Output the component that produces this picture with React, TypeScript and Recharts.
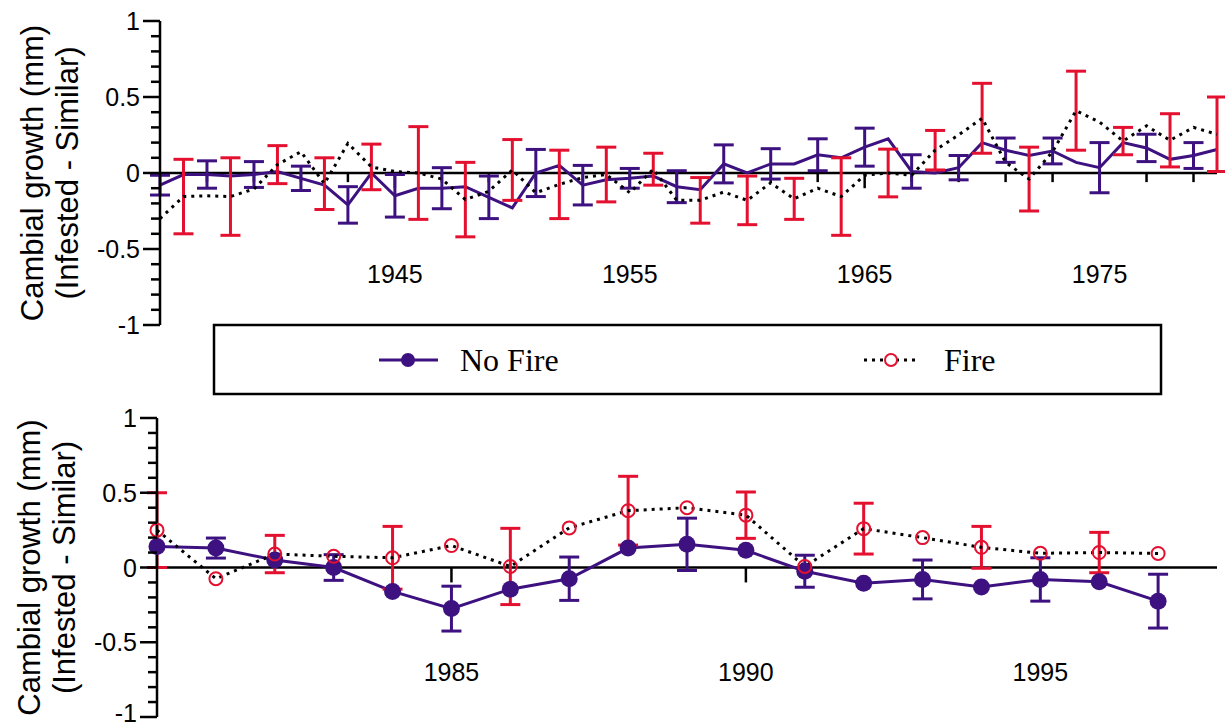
import React from 'react';
import { LineChart, Line, XAxis, YAxis, ErrorBar, ReferenceLine } from 'recharts';

const PURPLE = '#3d1280';
const RED = '#e3102f';
const SANS = '"Liberation Sans", Arial, sans-serif';
const SERIF = '"Liberation Serif", "Times New Roman", serif';

// ---------- Top panel (1935-1980) ----------
const topYears = [
  1935, 1936, 1937, 1938, 1939, 1940, 1941, 1942, 1943, 1944, 1945, 1946, 1947, 1948, 1949, 1950,
  1951, 1952, 1953, 1954, 1955, 1956, 1957, 1958, 1959, 1960, 1961, 1962, 1963, 1964, 1965, 1966,
  1967, 1968, 1969, 1970, 1971, 1972, 1973, 1974, 1975, 1976, 1977, 1978, 1979, 1980,
];
const topNoFire = [
  -0.08, -0.01, -0.01, -0.02, -0.01, 0.01, -0.035, -0.08, -0.21, 0.0, -0.15, -0.1, -0.1, -0.09, -0.16, -0.23,
  0.0, 0.05, -0.08, -0.045, -0.035, -0.02, -0.09, -0.11, 0.06, 0.0, 0.06, 0.06, 0.12, 0.1, 0.17, 0.225,
  0.01, 0.0, 0.035, 0.2, 0.15, 0.115, 0.145, 0.07, 0.035, 0.2, 0.165, 0.09, 0.115, 0.155,
];
const topNoFireErr = [
  0.065, null, 0.09, null, 0.085, null, 0.08, null, 0.12, null, 0.14, null, 0.135, null, 0.14, null,
  0.155, null, 0.13, null, 0.065, null, 0.105, null, 0.125, null, 0.1, null, 0.105, null, 0.125, null,
  0.11, null, 0.08, null, 0.08, null, 0.085, null, 0.165, null, 0.09, null, 0.085, null,
];
const topFire = [
  -0.3, -0.155, -0.15, -0.155, -0.105, 0.055, 0.14, -0.07, 0.195, 0.04, 0.01, 0.0, -0.04, -0.175, -0.12, 0.02,
  -0.13, -0.075, -0.03, -0.01, -0.13, 0.025, -0.18, -0.18, -0.125, -0.18, -0.065, -0.17, -0.1, -0.155, -0.015, 0.0,
  -0.015, 0.15, 0.25, 0.36, 0.07, -0.04, 0.14, 0.41, 0.335, 0.21, 0.31, 0.215, 0.3, 0.255,
];
const topFireErr = [
  null, 0.245, null, 0.255, null, 0.125, null, 0.17, null, 0.15, null, 0.305, null, 0.245, null, 0.2,
  null, 0.225, null, 0.18, null, 0.105, null, 0.15, null, 0.16, null, 0.135, null, 0.255, null, 0.157,
  null, 0.13, null, 0.23, null, 0.21, null, 0.26, null, 0.09, null, 0.175, null, 0.245,
];
const topXLabels = [1945, 1955, 1965, 1975];
const topMinorXTicks = [
  1937, 1939, 1941, 1943, 1947, 1949, 1951, 1953, 1957, 1959, 1961, 1963, 1967, 1969, 1971, 1973, 1977, 1979,
];

// ---------- Bottom panel (1980-1997) ----------
const bottomYears = [1980, 1981, 1982, 1983, 1984, 1985, 1986, 1987, 1988, 1989, 1990, 1991, 1992, 1993, 1994, 1995, 1996, 1997];
const bottomNoFire = [0.14, 0.13, 0.05, 0.0, -0.16, -0.275, -0.145, -0.075, 0.13, 0.155, 0.115, -0.025, -0.105, -0.08, -0.13, -0.08, -0.095, -0.225];
const bottomNoFireErr = [null, 0.067, null, 0.086, null, 0.15, null, 0.145, null, 0.175, null, 0.107, null, 0.13, null, 0.145, null, 0.18];
const bottomFire = [0.25, -0.075, 0.09, 0.075, 0.065, 0.147, 0.007, 0.265, 0.38, 0.4, 0.35, 0.007, 0.26, 0.2, 0.135, 0.095, 0.1, 0.094];
const bottomFireErr = [0.25, null, 0.125, null, 0.21, null, 0.255, null, 0.23, null, 0.155, null, 0.17, null, 0.14, null, 0.135, null];
const bottomXLabels = [1985, 1990, 1995];

// ---------- shared y ticks ----------
const yTicks = [-1, -0.9, -0.8, -0.7, -0.6, -0.5, -0.4, -0.3, -0.2, -0.1, 0, 0.1, 0.2, 0.3, 0.4, 0.5, 0.6, 0.7, 0.8, 0.9, 1];
const yLabelTicks = [-1, -0.5, 0, 0.5, 1];

const topData = topYears.map((year, i) => ({
  year,
  noFire: topNoFire[i],
  noFireErr: topNoFireErr[i],
  fire: topFire[i],
  fireErr: topFireErr[i],
}));
const bottomData = bottomYears.map((year, i) => ({
  year,
  noFire: bottomNoFire[i],
  noFireErr: bottomNoFireErr[i],
  fire: bottomFire[i],
  fireErr: bottomFireErr[i],
}));

// maxLabelY keeps the lowest label inside the picture
const makeYTick = (maxLabelY: number) => (props: any) => {
  const { x, y, payload } = props;
  const v = payload.value;
  const major = yLabelTicks.some((t) => Math.abs(t - v) < 1e-6);
  const ly = Math.min(y, maxLabelY);
  return (
    <g>
      <line x1={x - (major ? 17 : 9)} x2={x} y1={y} y2={y} stroke="#000" strokeWidth={2.5} />
      {major && (
        <text x={x - 20} y={ly} textAnchor="end" dominantBaseline="central" fontSize={25} fontFamily={SANS} fill="#000">
          {String(v)}
        </text>
      )}
    </g>
  );
};

const makeXTick = (offset: number) => (props: any) => {
  const { x, y, payload } = props;
  return (
    <text x={x} y={y - offset} textAnchor="middle" dominantBaseline="central" fontSize={25} fontFamily={SANS} fill="#000">
      {payload.value}
    </text>
  );
};

const renderTitle = (props: any) => {
  const vb = props.viewBox || { x: 0, y: 0, width: 0, height: 0 };
  const cy = vb.y + vb.height / 2;
  const x1 = vb.x + 22;
  const x2 = vb.x + 57;
  return (
    <g>
      <text x={x1} y={cy} transform={`rotate(-90, ${x1}, ${cy})`} textAnchor="middle" dominantBaseline="central" fontSize={31} fontFamily={SANS} fill="#000">
        Cambial growth (mm)
      </text>
      <text x={x2} y={cy} transform={`rotate(-90, ${x2}, ${cy})`} textAnchor="middle" dominantBaseline="central" fontSize={31} fontFamily={SANS} fill="#000">
        (Infested - Similar)
      </text>
    </g>
  );
};

const tickSeg = (t: number, len: number) => (
  <ReferenceLine
    key={`t${t}`}
    segment={[{ x: t, y: 0 }, { x: t, y: -len }]}
    stroke="#000"
    strokeWidth={2.5}
  />
);

export default function App() {
  return (
    <div style={{ position: 'absolute', left: 0, top: 0, width: 1225, height: 727, background: '#fff' }}>
      <div style={{ position: 'absolute', left: 0, top: 0 }}>
        <LineChart width={1225} height={340} data={topData} margin={{ top: 21, right: 8, bottom: 0, left: 10 }}>
          <XAxis
            dataKey="year"
            type="number"
            domain={[1935, 1980]}
            ticks={topXLabels}
            interval={0}
            axisLine={false}
            tickLine={false}
            tickSize={0}
            tickMargin={0}
            height={15}
            tick={makeXTick(51)}
          />
          <YAxis
            type="number"
            domain={[-1, 1]}
            allowDataOverflow
            ticks={yTicks}
            interval={0}
            tickSize={0}
            tickMargin={0}
            tickLine={false}
            axisLine={{ stroke: '#000', strokeWidth: 2.5 }}
            width={150}
            tick={makeYTick(1000)}
            label={{ content: renderTitle }}
          />
          <ReferenceLine y={0} stroke="#000" strokeWidth={2.5} />
          {topMinorXTicks.map((t) => tickSeg(t, 0.06))}
          {topXLabels.map((t) => tickSeg(t, 0.1))}
          <Line dataKey="noFire" stroke={PURPLE} strokeWidth={3} dot={false} isAnimationActive={false}>
            <ErrorBar dataKey="noFireErr" direction="y" width={10} stroke={PURPLE} strokeWidth={3} />
          </Line>
          <Line dataKey="fire" stroke="#000" strokeWidth={3} strokeDasharray="3 5" dot={false} isAnimationActive={false}>
            <ErrorBar dataKey="fireErr" direction="y" width={10} stroke={RED} strokeWidth={3} />
          </Line>
        </LineChart>
      </div>

      <svg width={1225} height={100} style={{ position: 'absolute', left: 0, top: 300 }}>
        <rect x={214} y={25} width={947} height={69} fill="#fff" stroke="#000" strokeWidth={2.5} />
        <line x1={379} x2={438} y1={60} y2={60} stroke={PURPLE} strokeWidth={3} />
        <circle cx={408} cy={60} r={7} fill={PURPLE} />
        <text x={460} y={60} dominantBaseline="central" fontSize={32} fontFamily={SERIF} fill="#000">No Fire</text>
        <line x1={864} x2={918} y1={60} y2={60} stroke="#000" strokeWidth={3} strokeDasharray="3 5" />
        <circle cx={891} cy={60} r={6} fill="#fff" stroke={RED} strokeWidth={2} />
        <text x={944} y={60} dominantBaseline="central" fontSize={32} fontFamily={SERIF} fill="#000">Fire</text>
      </svg>

      <div style={{ position: 'absolute', left: 0, top: 400 }}>
        <LineChart width={1225} height={327} data={bottomData} margin={{ top: 18, right: 8, bottom: 0, left: 7 }}>
          <XAxis
            dataKey="year"
            type="number"
            domain={[1980, 1998]}
            ticks={bottomXLabels}
            interval={0}
            axisLine={false}
            tickLine={false}
            tickSize={0}
            tickMargin={0}
            height={10}
            tick={makeXTick(45)}
          />
          <YAxis
            type="number"
            domain={[-1, 1]}
            allowDataOverflow
            ticks={yTicks}
            interval={0}
            tickSize={0}
            tickMargin={0}
            tickLine={false}
            axisLine={{ stroke: '#000', strokeWidth: 2.5 }}
            width={150}
            tick={makeYTick(313)}
            label={{ content: renderTitle }}
          />
          <ReferenceLine y={0} stroke="#000" strokeWidth={2.5} />
          {bottomXLabels.map((t) => tickSeg(t, 0.1))}
          <Line
            dataKey="noFire"
            stroke={PURPLE}
            strokeWidth={3}
            dot={{ r: 8.5, fill: PURPLE, stroke: PURPLE, strokeWidth: 0 }}
            isAnimationActive={false}
          >
            <ErrorBar dataKey="noFireErr" direction="y" width={10} stroke={PURPLE} strokeWidth={3} />
          </Line>
          <Line
            dataKey="fire"
            stroke="#000"
            strokeWidth={3}
            strokeDasharray="3 5"
            dot={{ r: 6.5, fill: 'none', stroke: RED, strokeWidth: 2, strokeDasharray: '0' }}
            isAnimationActive={false}
          >
            <ErrorBar dataKey="fireErr" direction="y" width={10} stroke={RED} strokeWidth={3} />
          </Line>
        </LineChart>
      </div>
    </div>
  );
}
